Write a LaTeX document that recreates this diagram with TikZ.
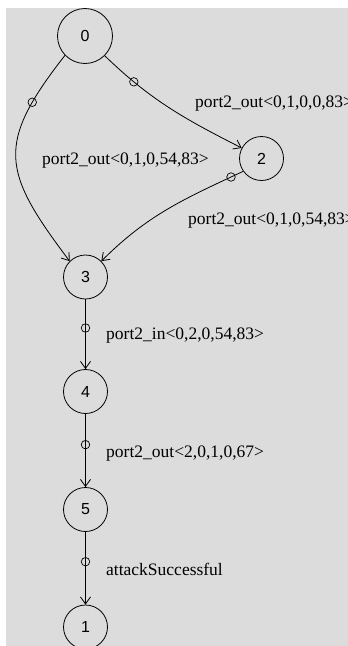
\documentclass[tikz,border=0pt]{standalone}
\usepackage{fontspec}
\setmainfont{Liberation Serif}
\newfontfamily\numfont{Liberation Sans}
\usetikzlibrary{arrows.meta}
\definecolor{bg}{RGB}{220,220,220}
\begin{document}
\begin{tikzpicture}[x=1pt,y=1pt,
  state/.style={draw,circle,line width=0.8pt,minimum size=44pt,inner sep=0pt,font=\numfont\fontsize{16}{16}\selectfont},
  bigstate/.style={state,minimum size=55pt},
  edge/.style={draw,line width=0.8pt,-{Straight Barb[length=7pt,width=10pt,line width=0.8pt]}},
  port/.style={draw,circle,line width=0.7pt,minimum size=8.5pt,inner sep=0pt,fill=none},
  lbl/.style={anchor=base west,inner sep=0pt,font=\fontsize{17.5}{17.5}\selectfont}]
\useasboundingbox (0,0) rectangle (348,-646);
\clip (0,0) rectangle (348,-646);
\fill[bg] (6,-8) rectangle (348,-646);

\node[bigstate] (n0) at (85,-36) {0};
\node[state] (n2) at (261.5,-158.5) {2};
\node[state] (n3) at (85.5,-277) {3};
\node[state] (n4) at (85.5,-391.5) {4};
\node[state] (n5) at (85.5,-509.5) {5};
\node[state] (n1) at (85.5,-627) {1};

\path[edge] (n0.-45) to[out=-44,in=153] node[port,pos=0.22] (p02) {} (n2.152);
\path[edge] (n0.-136) to[out=-128,in=127,looseness=1.4] node[port,pos=0.2] (p03) {} (n3.135);
\path[edge] (n2.-145) to[out=-155,in=45] node[port,pos=0.07] (p23) {} (n3.45);
\path[edge] (n3) -- node[port,pos=0.41] (p34) {} (n4);
\path[edge] (n4) -- node[port,pos=0.42] (p45) {} (n5);
\path[edge] (n5) -- node[port,pos=0.41] (p51) {} (n1);

\node[lbl] (l02) at (195,-107) {port2\_out<0,1,0,0,83>};
\node[lbl] (l03) at (42,-164) {port2\_out<0,1,0,54,83>};
\node[lbl] (l23) at (188,-224) {port2\_out<0,1,0,54,83>};
\node[lbl] (l34) at (106,-339) {port2\_in<0,2,0,54,83>};
\node[lbl] (l45) at (106,-457) {port2\_out<2,0,1,0,67>};
\node[lbl] (l51) at (106,-575) {attackSuccessful};
\end{tikzpicture}
\end{document}
